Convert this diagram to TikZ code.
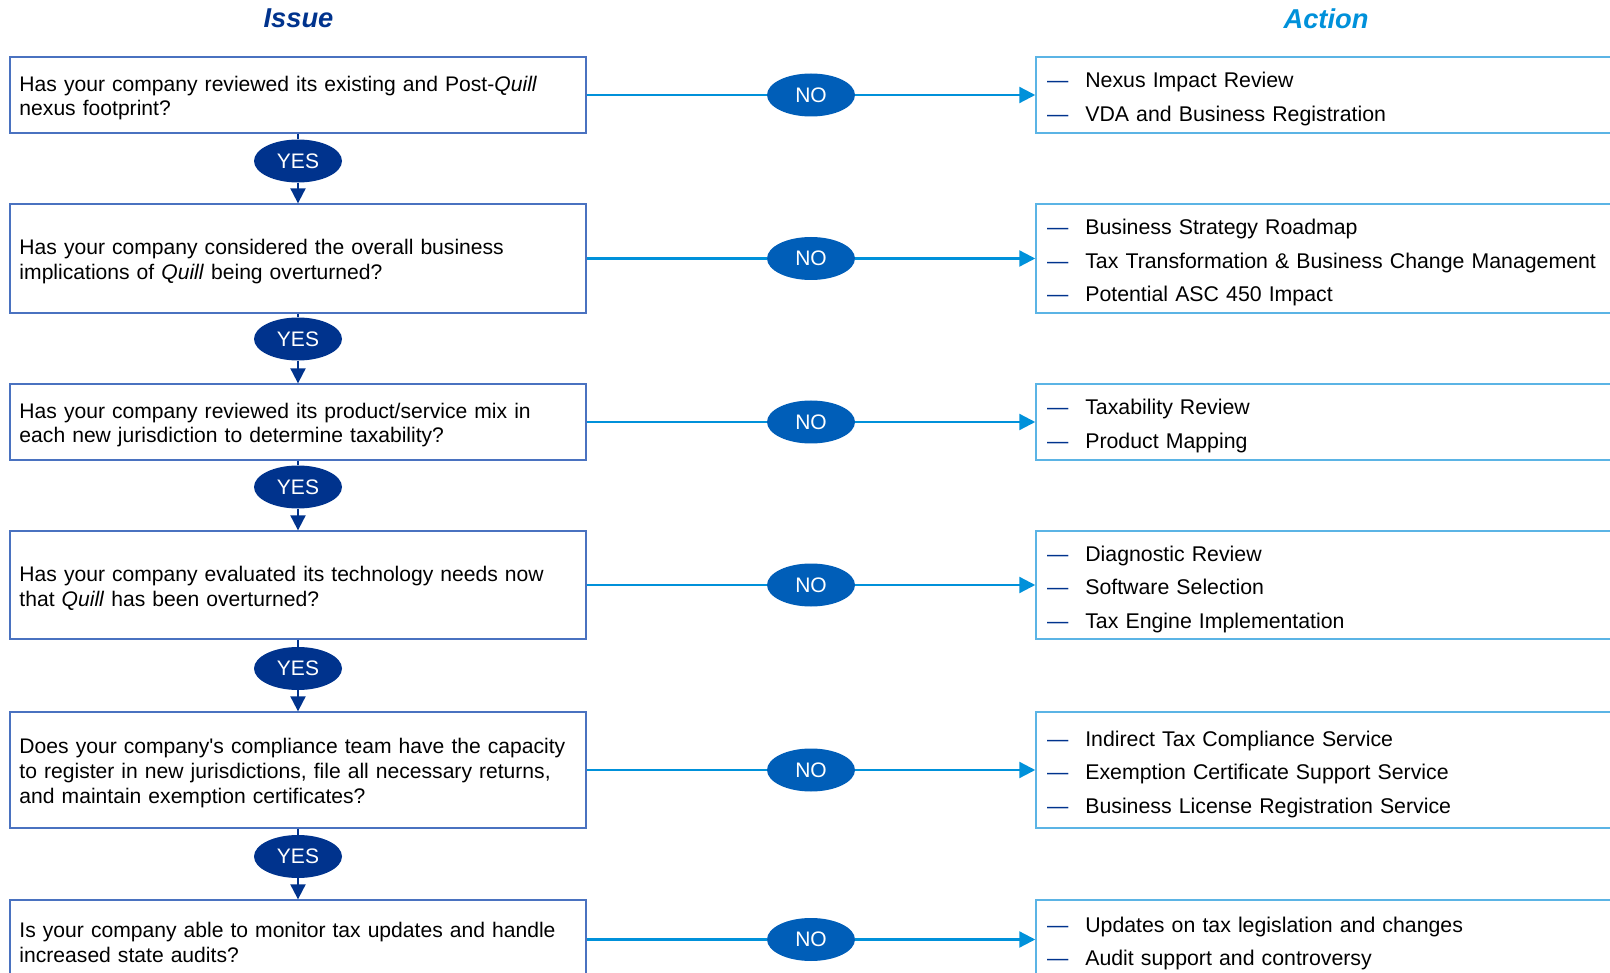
\documentclass[tikz,border=0pt]{standalone}
\usepackage{fontspec}
\setmainfont{Liberation Sans}
\usepackage{tikz}
\usetikzlibrary{shapes.geometric}
\usetikzlibrary{arrows.meta}
\definecolor{navy}{HTML}{00338D}
\definecolor{midblue}{HTML}{005EB8}
\definecolor{skyblue}{HTML}{0091DA}
\definecolor{issueedge}{HTML}{4A72C0}
\definecolor{actionedge}{HTML}{5BB4E5}
\newcommand{\actdash}{\textcolor{navy}{—}\hspace{17pt}}

\begin{document}
\begin{tikzpicture}[x=1pt,y=-1pt,
  issuebox/.style={rectangle,draw=issueedge,line width=1.3pt,minimum width=576pt,
    text width=557pt,inner xsep=9.5pt,inner ysep=0pt,align=left,text height=21.2pt,
    font=\fontsize{21.1}{24.8}\selectfont},
  actionbox/.style={rectangle,draw=actionedge,line width=1.5pt,minimum width=620pt,
    text width=598pt,inner xsep=11pt,inner ysep=0pt,align=left,text height=23.7pt,
    font=\fontsize{21.3}{33.5}\selectfont},
  yesnode/.style={ellipse,fill=navy,text=white,minimum width=88pt,minimum height=43pt,
    inner sep=0pt,font=\fontsize{21}{21}\selectfont},
  nonode/.style={ellipse,fill=midblue,text=white,minimum width=88pt,minimum height=43pt,
    inner sep=0pt,font=\fontsize{21}{21}\selectfont},
  yesline/.style={draw=navy,line width=2pt},
  noline/.style={draw=skyblue,line width=2.3pt},
  headtext/.style={font=\fontsize{27.3}{30}\selectfont\bfseries\itshape}]
\useasboundingbox (0,0) rectangle (1610,973);
\clip (0,0) rectangle (1610,973);

%headings
\path (298.5,18.5) node(issuehead) [headtext,text=navy]{Issue}
(1326,18.5) node(actionhead) [headtext,text=skyblue]{Action};

%issue column
\path (298,95) node(q1) [issuebox,minimum height=76pt]{Has your company reviewed its existing and Post-\textit{Quill}\\ nexus footprint?}
(298,258.5) node(q2) [issuebox,minimum height=109pt]{Has your company considered the overall business\\ implications of \textit{Quill} being overturned?}
(298,422) node(q3) [issuebox,minimum height=76pt]{Has your company reviewed its product/service mix in\\ each new jurisdiction to determine taxability?}
(298,585) node(q4) [issuebox,minimum height=108pt]{Has your company evaluated its technology needs now\\ that \textit{Quill} has been overturned?}
(298,770) node(q5) [issuebox,minimum height=116pt]{Does your company\textquotesingle s compliance team have the capacity\\ to register in new jurisdictions, file all necessary returns,\\ and maintain exemption certificates?}
(298,939.5) node(q6) [issuebox,minimum height=79pt]{Is your company able to monitor tax updates and handle\\ increased state audits?};

%action column
\path (1346,95) node(a1) [actionbox,minimum height=76pt]{\actdash Nexus Impact Review\\ \actdash VDA and Business Registration}
(1346,258.5) node(a2) [actionbox,minimum height=109pt]{\actdash Business Strategy Roadmap\\ \actdash Tax Transformation \& Business Change Management\\ \actdash Potential ASC 450 Impact}
(1346,422) node(a3) [actionbox,minimum height=76pt]{\actdash Taxability Review\\ \actdash Product Mapping}
(1346,585) node(a4) [actionbox,minimum height=108pt]{\actdash Diagnostic Review\\ \actdash Software Selection\\ \actdash Tax Engine Implementation}
(1346,770) node(a5) [actionbox,minimum height=116pt]{\actdash Indirect Tax Compliance Service\\ \actdash Exemption Certificate Support Service\\ \actdash Business License Registration Service}
(1346,939.5) node(a6) [actionbox,minimum height=79pt]{\actdash Updates on tax legislation and changes\\ \actdash Audit support and controversy};

%yes answers
\path (298,161) node(y1) [yesnode]{YES}
(298,339) node(y2) [yesnode]{YES}
(298,487) node(y3) [yesnode]{YES}
(298,668.5) node(y4) [yesnode]{YES}
(298,856.5) node(y5) [yesnode]{YES};

%no answers
\path (811,95) node(n1) [nonode]{NO}
(811,258.5) node(n2) [nonode]{NO}
(811,422) node(n3) [nonode]{NO}
(811,585) node(n4) [nonode]{NO}
(811,770) node(n5) [nonode]{NO}
(811,939.5) node(n6) [nonode]{NO};

\foreach \i/\j in {1/2,2/3,3/4,4/5,5/6}{
  \draw[yesline] (q\i) -- (y\i);
  \draw[yesline,-{Triangle[length=15pt,width=15pt]}] (y\i) -- (q\j);
}
\foreach \i in {1,...,6}{
  \draw[noline] (q\i) -- (n\i);
  \draw[noline,-{Triangle[length=16pt,width=16pt]}] (n\i) -- (a\i);
}
\end{tikzpicture}
\end{document}
